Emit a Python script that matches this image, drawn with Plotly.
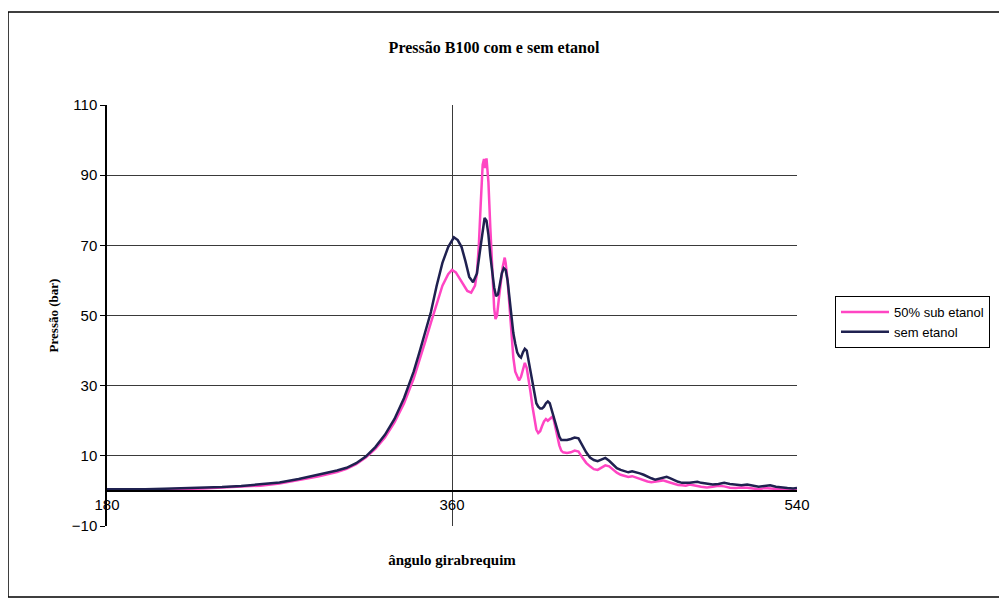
import plotly.graph_objects as go

# crank angle (degrees) and pressure (bar)
ang_sem = [180, 190, 200, 210, 220, 230, 240, 250, 260, 270, 280, 290, 300, 305, 310, 315,
           320, 325, 330, 335, 340, 343, 346, 349, 352, 355, 358, 361, 363, 365, 367, 369,
           371, 373, 375, 377, 378, 379, 380, 381, 382, 383, 384, 385, 386, 387, 388, 389,
           390, 391, 392, 393, 394, 395, 396, 397, 398, 399, 400, 401, 402, 403, 404, 405,
           406, 407, 408, 409, 410, 411, 412, 413, 414, 415, 416, 417, 418, 420, 422, 424,
           426, 428, 430, 432, 434, 436, 438, 440, 442, 444, 446, 448, 450, 452, 454, 456,
           458, 460, 462, 464, 466, 468, 470, 472, 474, 476, 478, 480, 482, 484, 486, 488,
           490, 493, 496, 499, 502, 505, 508, 511, 514, 517, 520, 523, 526, 529, 532, 535,
           538, 540]
p_sem = [0.5, 0.4, 0.5, 0.6, 0.7, 0.9, 1.1, 1.4, 1.8, 2.4, 3.4, 4.5, 5.8, 6.6, 7.9, 9.8,
         12.5, 16, 20.5, 26.5, 34, 39.5, 45, 51, 58.5, 65, 69.5, 72.3, 71.5, 69.5, 65.5, 61,
         59.5, 62, 70, 77.8, 77, 73, 67, 62, 58, 55.5, 56, 59, 62, 63.5, 63, 60,
         55, 50, 45, 42, 39.5, 38.5, 38, 39.5, 40.5, 40, 37, 34, 30, 27, 25, 24,
         23.5, 23.5, 24, 25, 25.5, 25, 23, 21, 19, 17, 15.5, 14.5, 14.5, 14.5, 14.8, 15.2,
         15, 13, 11, 9.5, 8.8, 8.5, 9, 9.4, 8.6, 7.5, 6.5, 6, 5.6, 5.3, 5.6, 5.4,
         5, 4.6, 4, 3.6, 3.2, 3.4, 3.8, 4, 3.6, 3, 2.6, 2.3, 2.2, 2.3, 2.5, 2.6,
         2.3, 2, 1.8, 2, 2.3, 2, 1.7, 1.6, 1.8, 1.5, 1.2, 1.4, 1.6, 1.2, 0.9, 0.8,
         0.7, 0.8]

ang_eta = [180, 190, 200, 210, 220, 230, 240, 250, 260, 270, 280, 290, 300, 305, 310, 315,
           320, 325, 330, 335, 340, 343, 346, 349, 352, 355, 358, 360, 362, 364, 366, 368,
           370, 372, 373, 374, 375, 376, 376.7, 377.3, 378, 379, 380, 381, 382, 382.7, 383.5, 384.5,
           385.5, 386.5, 387.5, 388, 389, 390, 391, 392, 393, 394, 395, 396, 397, 398, 399, 400,
           401, 402, 403, 404, 405, 406, 407, 408, 409, 410, 411, 412, 413, 414, 415, 416,
           417, 418, 420, 422, 424, 426, 428, 430, 432, 434, 436, 438, 440, 442, 444, 446,
           448, 450, 452, 454, 456, 458, 460, 462, 464, 466, 468, 470, 472, 474, 476, 478,
           480, 482, 484, 486, 488, 490, 493, 496, 499, 502, 505, 508, 511, 514, 517, 520,
           523, 526, 529, 532, 535, 538, 540]
p_eta = [0.2, 0.1, 0.3, 0.4, 0.5, 0.7, 1.0, 1.2, 1.5, 2.1, 3.0, 4.1, 5.4, 6.3, 7.6, 9.5,
         12, 15.2, 19.5, 25, 32, 37, 42.5, 48, 53.5, 58.5, 61.8, 63, 62.3, 60.5, 58.5, 57,
         56.5, 58.5, 62, 70, 82, 93, 94.6, 92, 94.8, 88, 75, 62, 52, 49, 50, 55,
         60, 64, 66.5, 65, 60, 52, 44, 38, 34, 32.5, 31.5, 32.5, 35, 36.5, 35, 32,
         28, 24, 20, 17.5, 16.5, 17, 18.5, 19.8, 20.5, 20, 20.5, 21, 20.5, 18, 15, 13,
         11.5, 11, 10.8, 11, 11.5, 11.2, 9.5, 8, 7, 6.2, 6, 6.6, 7.3, 7, 6, 5.2,
         4.6, 4.2, 4, 4.2, 3.8, 3.4, 3, 2.7, 2.5, 2.6, 2.9, 3, 2.7, 2.3, 2, 1.7,
         1.6, 1.5, 1.8, 1.7, 1.4, 1.2, 1.0, 1.2, 1.5, 1.3, 0.9, 0.8, 1.0, 0.9, 0.6, 0.5,
         0.8, 0.7, 0.4, 0.3, 0.2, 0.2, 0.3]

x_ticks = [180, 360, 540]
y_ticks = [-10, 10, 30, 50, 70, 90, 110]

PINK = "#ff45c3"
NAVY = "#1f2150"
GRID = "#3a3a3a"

fig = go.Figure()
fig.add_trace(go.Scatter(x=ang_eta, y=p_eta, mode="lines", name="50% sub etanol",
                         line=dict(color=PINK, width=2.5)))
fig.add_trace(go.Scatter(x=ang_sem, y=p_sem, mode="lines", name="sem etanol",
                         line=dict(color=NAVY, width=2.5)))

OFF = 8  # page offset of the figure in the browser
L, T = 107 - OFF, 105 - OFF
W, H = 1007, 601
pw, ph = 690, 421
R, B = W - L - pw, H - T - ph


def px_x(x):
    return (x - OFF - L) / pw


def px_y(y):
    return (T + ph - (y - OFF)) / ph


fig.update_layout(
    width=W, height=H,
    margin=dict(l=L, r=R, t=T, b=B),
    paper_bgcolor="white", plot_bgcolor="white",
    title=dict(text="<b>Pressão B100 com e sem etanol</b>",
               font=dict(family="Liberation Serif", size=16, color="black"),
               x=(494 - OFF) / W, xref="container", xanchor="center",
               y=1 - (47 - OFF) / H, yref="container", yanchor="middle"),
    legend=dict(x=px_x(835), y=px_y(296), xanchor="left", yanchor="top",
                bordercolor="black", borderwidth=1, bgcolor="white",
                font=dict(family="Liberation Sans", size=13, color="black"),
                itemwidth=48, tracegroupgap=0),
    showlegend=True,
)

fig.update_xaxes(
    range=[180, 540], tickvals=x_ticks, ticktext=[str(v) for v in x_ticks],
    showgrid=True, gridcolor=GRID, gridwidth=1,
    showline=True, linecolor="black", linewidth=1.5,
    anchor="free", position=(0 - (-10)) / 120,
    ticks="", zeroline=False,
    tickfont=dict(family="Liberation Sans", size=15, color="black"),
    title=dict(text="<b>ângulo girabrequim</b>", standoff=42,
               font=dict(family="Liberation Serif", size=15, color="black")),
)
fig.update_yaxes(
    range=[-10, 110], tickvals=y_ticks,
    showgrid=True, gridcolor=GRID, gridwidth=1,
    showline=True, linecolor="black", linewidth=1.5,
    ticks="outside", ticklen=5, tickcolor="black",
    zeroline=False,
    tickfont=dict(family="Liberation Sans", size=15, color="black"),
    title=dict(text="<b>Pressão (bar)</b>", standoff=10,
               font=dict(family="Liberation Serif", size=13, color="black")),
)

# outer chart border
fig.add_shape(type="rect", xref="paper", yref="paper",
              x0=px_x(8), x1=px_x(1015),
              y0=px_y(597), y1=px_y(12),
              line=dict(color="black", width=1.5), fillcolor="rgba(0,0,0,0)", layer="below")

fig.write_html("out.html")
